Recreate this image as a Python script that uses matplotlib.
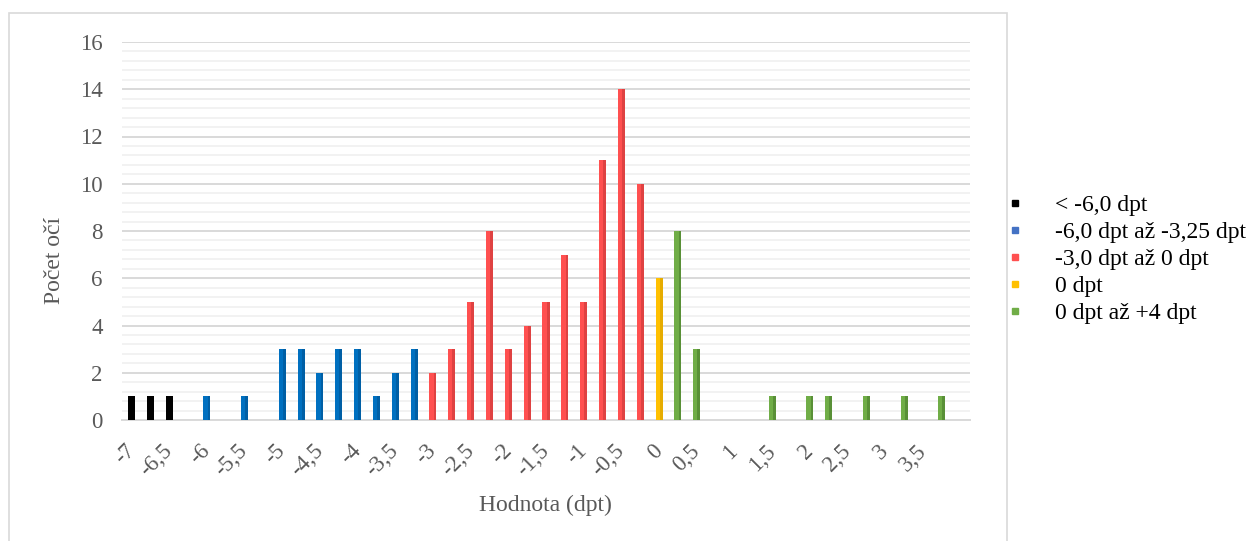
import numpy as np
import matplotlib
matplotlib.use('Agg')
import matplotlib.pyplot as plt
from matplotlib.lines import Line2D
from matplotlib.patches import Rectangle

plt.rcParams['font.family'] = ['Liberation Serif', 'DejaVu Serif']

# hodnoty refrakce (dpt) a počty očí po skupinách
black_x = [-7, -6.75, -6.5]
black_y = [1, 1, 1]
blue_x = [-6, -5.5, -5, -4.75, -4.5, -4.25, -4, -3.75, -3.5, -3.25]
blue_y = [1, 1, 3, 3, 2, 3, 3, 1, 2, 3]
red_x = [-3, -2.75, -2.5, -2.25, -2, -1.75, -1.5, -1.25, -1, -0.75, -0.5, -0.25]
red_y = [2, 3, 5, 8, 3, 4, 5, 7, 5, 11, 14, 10]
yellow_x = [0]
yellow_y = [6]
green_x = [0.25, 0.5, 1.5, 2, 2.25, 2.75, 3.25, 3.75]
green_y = [8, 3, 1, 1, 1, 1, 1, 1]

tick_vals = np.arange(-7, 3.51, 0.5)
tick_labels = [('%g' % v).replace('.', ',') for v in tick_vals]

groups = [
    ('< -6,0 dpt', black_x, black_y, '#000000', '#000000', '#000000'),
    ('-6,0 dpt až -3,25 dpt', blue_x, blue_y, '#0070C0', '#004C86', '#4472C4'),
    ('-3,0 dpt až 0 dpt', red_x, red_y, '#FF5050', '#B83232', '#FF5050'),
    ('0 dpt', yellow_x, yellow_y, '#FFC000', '#C89400', '#FFC000'),
    ('0 dpt až +4 dpt', green_x, green_y, '#70AD47', '#3F6E25', '#70AD47'),
]

W, H = 1254, 541
fig = plt.figure(figsize=(W / 100, H / 100), dpi=100)
ax = fig.add_axes([122 / W, 1 - 420 / H, 848 / W, 378 / H])

w = 0.093
handles = []
for name, xs, ys, col, dark, leg_col in groups:
    ax.bar(xs, ys, width=w, color=col, zorder=3, linewidth=0)
    # tmavší pravý okraj sloupce
    ax.bar(np.array(xs) + w * 0.3, ys, width=w * 0.4, color=dark, alpha=0.45,
           zorder=4, linewidth=0)
    handles.append(Line2D([], [], marker='s', linestyle='none', markersize=5,
                          markerfacecolor=leg_col, markeredgecolor=leg_col,
                          label=name))

ax.set_xlim(-7.125, 4.125)
ax.set_ylim(0, 16)
ax.set_yticks(np.arange(0, 17, 2))
ax.set_yticks(np.arange(0, 16.01, 0.4), minor=True)
ax.grid(axis='y', which='major', color='#D9D9D9', linewidth=1.4, zorder=0)
ax.grid(axis='y', which='minor', color='#F2F2F2', linewidth=1.4, zorder=0)
for s in ['top', 'right', 'left']:
    ax.spines[s].set_visible(False)
ax.spines['bottom'].set_color('#D9D9D9')
ax.spines['bottom'].set_linewidth(1.4)
ax.tick_params(axis='both', which='both', length=0)
ax.tick_params(axis='y', labelsize=16.5, labelcolor='#595959', pad=14)

ax.set_xticks(tick_vals)
ax.set_xticklabels(tick_labels, rotation=45, ha='right', va='center',
                   rotation_mode='anchor', fontsize=16.5, color='#595959')
ax.tick_params(axis='x', pad=20)

fig.text(545 / W, 1 - 505 / H, 'Hodnota (dpt)', fontsize=17, color='#595959',
         ha='center', va='center')
fig.text(55 / W, 1 - 260 / H, 'Počet očí', fontsize=17, color='#595959',
         ha='center', va='center', rotation=90)

fig.legend(handles=handles, loc='upper left', bbox_to_anchor=(987 / W, 1 - 178 / H),
           frameon=False, fontsize=17, handletextpad=1.2, labelspacing=0.23,
           handlelength=1.0, borderpad=0.2)

# rámeček oblasti grafu
fig.patches.append(Rectangle((9 / W, -0.01), 998 / W, 1 - 13 / H + 0.01,
                             transform=fig.transFigure, fill=False,
                             edgecolor='#D9D9D9', linewidth=1.2))

fig.savefig('out.png', dpi=100)
